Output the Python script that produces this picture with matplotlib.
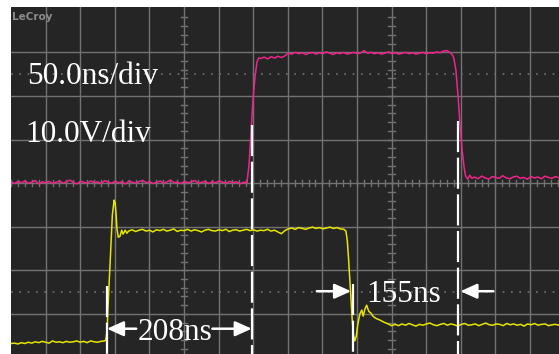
import numpy as np
import matplotlib
matplotlib.use("Agg")
import matplotlib.pyplot as plt

# scope settings (50 ns/div, 10 V/div)
t_div = 50.0
v_div = 10.0
t_span = 792.0
v_low, v_high = -39.2, 40.4

# --- magenta channel (top trace), volts ---
mag_base_left = [0.3, -0.1, 0.4, 0.1, 0.5, 0.0, 0.2, 0.6, -0.2, 0.3, 0.1, 0.4, -0.1, 0.2,
                 0.5, 0.0, 0.3, 0.7, 0.1, -0.2, 0.4, 0.2, 0.0, 0.5, 0.1, 0.3, -0.1, 0.6,
                 0.2, 0.0, 0.4, 0.1, 0.3, -0.2, 0.5, 0.2, 0.0, 0.4, 0.6, 0.1, 0.3, -0.1,
                 0.2, 0.5, 0.0, 0.3, 0.7, 0.1, 0.2, -0.1, 0.4, 0.1, 0.3, 0.6, 0.0, 0.2,
                 0.4, -0.1, 0.3, 0.1, 0.5, 0.2, 0.0, 0.4, 0.1, 0.3, -0.2, 0.2, 0.1]
mag_rise_t = [344, 347, 350, 353, 355.5, 358]
mag_rise_v = [4.1, 12.2, 19.7, 24.8, 27.8, 28.7]
mag_top = [28.6, 28.9, 28.5, 29.0, 28.7, 29.1, 28.8, 29.2, 29.8, 29.6, 30.0, 29.7, 29.9,
           29.5, 29.8, 30.0, 29.6, 29.9, 29.7, 30.1, 29.8, 29.5, 29.9, 29.7, 30.0, 29.6,
           29.8, 30.0, 29.7, 29.9, 30.4, 29.8, 30.0, 29.7, 29.9, 29.6, 29.8, 30.1, 29.7,
           29.9, 29.6, 29.8, 30.0, 29.7, 29.9, 29.6, 29.8, 30.0, 29.7, 29.9, 29.8, 30.1,
           29.9, 30.3, 30.4, 29.9]
mag_fall_t = [638, 640, 643, 646, 649, 652, 655, 657, 660, 663, 666]
mag_fall_v = [29.4, 28.7, 25.9, 20.2, 13.3, 7.6, 3.4, 1.6, 0.9, 1.8, 1.1]
mag_base_right = [1.4, 1.0, 1.6, 1.2, 0.9, 1.5, 1.3, 1.1, 1.7, 1.2, 1.0, 1.4, 1.6, 1.1,
                  1.3, 0.9, 1.5, 1.2, 1.4, 1.0, 1.6, 1.3, 1.1, 1.5, 1.2]

# --- yellow channel (bottom trace), volts ---
yel_base_left = [-36.8, -36.7, -36.9, -36.6, -36.8, -36.5, -36.7, -36.4, -36.6, -36.3,
                 -36.5, -36.7, -36.2, -36.5, -36.4, -36.6, -36.3, -36.5, -36.4, -36.2,
                 -36.5, -36.3, -36.6, -36.2, -36.4, -36.5, -36.3, -36.2]
yel_rise_t = [137, 139, 140, 142, 144.5, 146.5, 149, 150.5, 152, 153, 155, 157.5, 160,
              162, 165, 167.5]
yel_rise_v = [-36.0, -33.7, -29.1, -22.3, -14.2, -7.3, -3.9, -4.6, -7.3, -10.3, -12.4,
              -12.2, -10.8, -11.7, -10.8, -11.5]
yel_top = [-11.0, -10.7, -11.1, -10.8, -10.6, -11.0, -10.8, -11.2, -10.7, -10.9, -10.6,
           -11.0, -10.8, -10.5, -11.1, -10.8, -10.9, -10.6, -11.0, -10.7, -10.9, -11.2,
           -10.8, -10.6, -10.9, -11.0, -10.7, -10.9, -10.6, -11.1, -10.8, -10.7, -11.0,
           -10.8, -10.6, -10.9, -10.7, -11.0, -10.8, -10.9, -10.6, -11.0, -10.8, -11.2,
           -11.6, -10.9, -10.5, -10.3, -10.6, -10.2, -10.4, -10.6, -10.3, -10.1, -10.4,
           -10.2, -10.5, -10.3, -10.1, -10.4, -10.2, -10.5, -10.6]
yel_fall_t = [484, 486, 488, 490.5, 493, 495, 497, 499, 501, 504, 507, 509, 511.5, 514,
              517, 520, 523, 527, 533, 539, 545, 550]
yel_fall_v = [-11.0, -13.1, -17.7, -24.5, -31.0, -34.9, -36.2, -35.1, -32.6, -30.1, -29.1,
              -30.5, -28.9, -28.0, -29.4, -29.8, -30.5, -31.0, -31.4, -31.9, -32.3, -32.7]
yel_base_right = [-32.4, -32.7, -32.3, -32.6, -32.2, -32.5, -32.8, -32.4, -32.6, -32.3,
                  -32.1, -32.5, -32.7, -32.4, -32.2, -32.6, -32.3, -32.5, -32.8, -32.4,
                  -32.2, -32.6, -32.5, -32.3, -32.7, -32.4, -32.1, -32.5, -32.6, -32.3,
                  -32.4, -32.7, -32.2, -32.5, -32.3, -32.6, -32.4, -32.8, -32.3, -32.5,
                  -32.2, -32.6, -32.4, -32.3, -32.7, -32.5, -32.4, -32.6]

# cursors: time, top of dashed line (V)
cursor_t = [138.7, 348.0, 494.5, 646.5]
cursor_top = [-23.7, 13.3, -23.2, 14.3]

# measurements
meas_labels = ["208ns", "155ns"]


def build(base_left, t_left, rise_t, rise_v, top, t_top, fall_t, fall_v, base_right, t_right):
    """Glue the segments of a trace into one time / voltage array."""
    t = np.concatenate([np.linspace(t_left[0], t_left[1], len(base_left)), rise_t,
                        np.linspace(t_top[0], t_top[1], len(top)), fall_t,
                        np.linspace(t_right[0], t_right[1], len(base_right))])
    v = np.concatenate([base_left, rise_v, top, fall_v, base_right])
    return t, v


mag_t, mag_v = build(mag_base_left, (0, 341), mag_rise_t, mag_rise_v, mag_top, (361, 635),
                     mag_fall_t, mag_fall_v, mag_base_right, (670, t_span))
yel_t, yel_v = build(yel_base_left, (0, 135), yel_rise_t, yel_rise_v, yel_top, (170, 481),
                     yel_fall_t, yel_fall_v, yel_base_right, (555, t_span))

# Plot

fig = plt.figure(figsize=(5.59, 3.54), dpi=100)
fig.patch.set_facecolor("white")
axis = fig.add_axes([11 / 559, 0, 548 / 559, 347 / 354])
axis.set_facecolor("#252525")
axis.set_xlim(0, t_span)
axis.set_ylim(v_low, v_high)
axis.set_xticks([])
axis.set_yticks([])
for spine in axis.spines.values():
    spine.set_visible(False)

grid_c = "#727272"
for t in np.arange(t_div, t_span, t_div):
    axis.axvline(t, color=grid_c, lw=1.0, zorder=1)
for v in np.arange(-30, 31, v_div):
    axis.axhline(v, color=grid_c, lw=1.0, zorder=1)
for v in (-25, 25):
    axis.axhline(v, color=grid_c, lw=1.2, ls=(0, (1, 4)), zorder=1)

# small ticks on the centre axes
for t in np.arange(0, t_span, t_div / 5):
    axis.plot([t, t], [-0.6, 0.6], color=grid_c, lw=1.0, zorder=1)
for tc in (250, 550):
    for v in np.arange(-38, 40, v_div / 5):
        axis.plot([tc - 5, tc + 5], [v, v], color=grid_c, lw=1.0, zorder=1)

axis.plot(mag_t, mag_v, color="#f0248c", lw=1.1, zorder=3)
axis.plot(yel_t, yel_v, color="#e8e600", lw=1.1, zorder=3)

for t, top in zip(cursor_t, cursor_top):
    axis.plot([t, t], [top, v_low], color="white", lw=1.6, ls=(0, (14, 2.5)), zorder=4)

serif = "Liberation Serif"
axis.text(23, 22.7, "50.0ns/div", color="white", fontsize=22.5, family=serif, zorder=5)
axis.text(20, 9.4, "10.0V/div", color="white", fontsize=22.5, family=serif, zorder=5)

arrow = dict(arrowstyle="-|>,head_length=1.0,head_width=0.45", color="white", lw=1.8,
             shrinkA=0, shrinkB=0)
axis.annotate("", xy=(cursor_t[0], -33.4), xytext=(181, -33.4), arrowprops=arrow)
axis.annotate("", xy=(cursor_t[1], -33.4), xytext=(291, -33.4), arrowprops=arrow)
axis.text(183, -36.0, meas_labels[0], color="white", fontsize=22.5, family=serif, zorder=5)

axis.annotate("", xy=(cursor_t[2] - 3, -24.8), xytext=(442, -24.8), arrowprops=arrow)
axis.annotate("", xy=(cursor_t[3] + 3, -24.8), xytext=(697, -24.8), arrowprops=arrow)
axis.text(513, -27.3, meas_labels[1], color="white", fontsize=22.5, family=serif, zorder=5)

fig.text(12 / 559, 1 - 20 / 354, "LeCroy", color="#8c8c8c", fontsize=7.5,
         weight="bold", family="DejaVu Sans")

fig.savefig("out.png", dpi=100, facecolor=fig.get_facecolor())
